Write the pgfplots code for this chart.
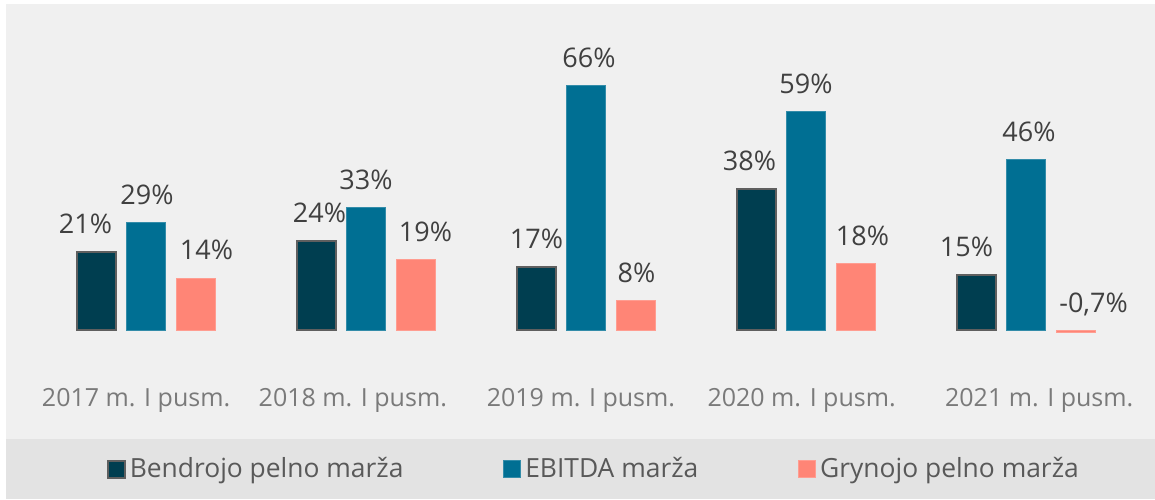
\documentclass[border=0pt]{standalone}
\usepackage{pgfplots}
\usepackage{pgfplotstable}
\usepackage{fontspec}
\setmainfont{Open Sans}
\pgfplotsset{compat=1.18}
\definecolor{bgA}{HTML}{F0F0F0}
\definecolor{bgB}{HTML}{E3E3E3}
\definecolor{cDark}{HTML}{003E50}
\definecolor{cTeal}{HTML}{006F93}
\definecolor{cSalmon}{HTML}{FF8576}
\definecolor{cOut}{HTML}{5F5F5F}
\definecolor{txtA}{HTML}{404040}
\definecolor{txtB}{HTML}{7A7A7A}
\definecolor{txtC}{HTML}{595959}

\pgfplotstableread{
x y lbl dx
0 21 21 -5.5
1 24 24 1.5
2 17 17 0
3 38 38 -3.5
4 15 15 -5
}\dark
\pgfplotstableread{
x y lbl dx
0 29 29 0.5
1 33 33 0
2 66 66 1.5
3 59 59 0
4 46 46 1.5
}\teal
\pgfplotstableread{
x y lbl dx
0 14 14 5.5
1 19 19 5
2 8 8 0.5
3 18 18 3.5
4 -0.7 -0,7 9
}\salmon

\begin{document}
\begin{tikzpicture}
\fill[white] (0,0) rectangle (577.5pt,-249.5pt);
\fill[bgA] (3pt,-2pt) rectangle (577.5pt,-219.5pt);
\fill[bgB] (3pt,-219.5pt) rectangle (577.5pt,-249.5pt);
\begin{axis}[
  at={(18pt,-172.5pt)}, anchor=south west,
  width=550pt, height=152pt, scale only axis,
  xmin=-0.5, xmax=4.5, ymin=-4, ymax=78,
  axis line style={draw=none},
  ytick=\empty,
  xtick={-0.045,0.94,1.977,2.98,4.06},
  xticklabels={2017 m. I pusm.,2018 m. I pusm.,2019 m. I pusm.,\raisebox{-2pt}{2020 m. I pusm.},2021 m. I pusm.},
  major tick length=0pt,
  xticklabel style={font=\fontsize{12.5}{14}\selectfont, text=txtB, yshift=-18pt},
  ybar, bar width=19.5pt,
  clip=false,
  point meta=explicit symbolic,
  nodes near coords={\pgfplotspointmeta\%},
  visualization depends on={\thisrow{dx} \as \dx},
  every node near coord/.append style={font=\fontsize{13.5}{15}\selectfont, text=txtA, anchor=center, yshift=14pt, xshift=\dx pt},
  legend columns=3,
  legend style={at={(0.508,-0.408)}, anchor=center, draw=none, fill=none,
    font=\fontsize{13.2}{15}\selectfont, text=txtC,
    /tikz/every even column/.append style={column sep=48pt}},
  legend image code/.code={\draw[#1] (0pt,-4.25pt) rectangle (8.5pt,4.25pt);},
]
\addplot[fill=cDark, draw=cOut, line width=1pt, bar shift=-24.75pt] table[x=x, y=y, meta=lbl] {\dark};
\addplot[fill=cTeal, draw=cTeal!80!white, line width=0.4pt, bar shift=0pt] table[x=x, y=y, meta=lbl] {\teal};
\addplot[fill=cSalmon, draw=cSalmon!80!white, line width=0.4pt, bar shift=24.75pt] table[x=x, y=y, meta=lbl] {\salmon};
\legend{Bendrojo pelno marža, EBITDA marža, Grynojo pelno marža}
\end{axis}
\end{tikzpicture}
\end{document}
